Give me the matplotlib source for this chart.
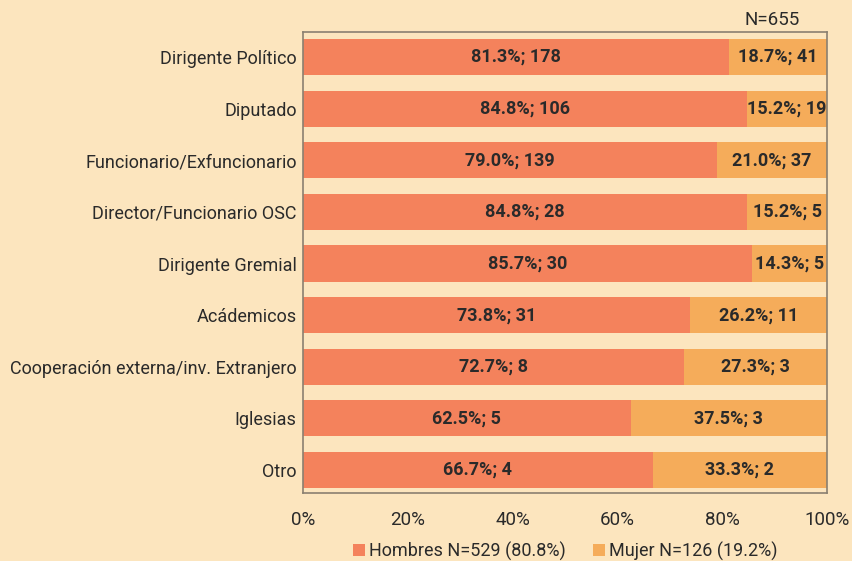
import matplotlib
matplotlib.use("Agg")
import matplotlib.pyplot as plt

plt.rcParams['font.family'] = ['Roboto', 'DejaVu Sans']

categories = ["Dirigente Político", "Diputado", "Funcionario/Exfuncionario",
              "Director/Funcionario OSC", "Dirigente Gremial", "Acádemicos",
              "Cooperación externa/inv. Extranjero", "Iglesias", "Otro"]
hombres_pct = [81.3, 84.8, 79.0, 84.8, 85.7, 73.8, 72.7, 62.5, 66.7]
hombres_n = [178, 106, 139, 28, 30, 31, 8, 5, 4]
mujer_pct = [18.7, 15.2, 21.0, 15.2, 14.3, 26.2, 27.3, 37.5, 33.3]
mujer_n = [41, 19, 37, 5, 5, 11, 3, 3, 2]
xticks = [0, 20, 40, 60, 80, 100]
legend_labels = ["Hombres N=529 (80.8%)", "Mujer N=126 (19.2%)"]

bg = "#FCE5BE"
c_h = "#F4825C"
c_m = "#F5AC5A"
txt = "#2a2a2a"

fig = plt.figure(figsize=(8.53, 5.61), dpi=100, facecolor=bg)
ax = fig.add_axes([303/853, 1-493/561, 524/853, 461/561], facecolor=bg)

y = list(range(len(categories)))
ax.barh(y, hombres_pct, height=0.70, color=c_h, label=legend_labels[0])
ax.barh(y, mujer_pct, left=hombres_pct, height=0.70, color=c_m, label=legend_labels[1])
for i in y:
    ax.text(hombres_pct[i]/2, i, f"{hombres_pct[i]:.1f}%; {hombres_n[i]}",
            ha='center', va='center', fontsize=13, fontweight='bold', color=txt)
    ax.text(hombres_pct[i] + mujer_pct[i]/2, i, f"{mujer_pct[i]:.1f}%; {mujer_n[i]}",
            ha='center', va='center', fontsize=13, fontweight='bold', color=txt,
            fontstretch='condensed')

ax.set_xlim(0, 100)
ax.set_ylim(len(categories) - 1 + 0.446, -0.485)
ax.set_yticks(y)
ax.set_yticklabels(categories, fontsize=13, color=txt)
ax.set_xticks(xticks)
ax.set_xticklabels([f"{t}%" for t in xticks], fontsize=13.5, color=txt)
ax.tick_params(axis='y', length=0, pad=4.5)
ax.tick_params(axis='x', length=0, pad=13)
for s in ax.spines.values():
    s.set_color("#8a8070")
    s.set_linewidth(1.2)

fig.text(772/853, 1-20/561, "N=655", ha='center', va='center', fontsize=13.5, color=txt)

fig.legend(loc='center', bbox_to_anchor=(565/853, 1-551/561), ncol=2, frameon=False,
           fontsize=13, handlelength=0.7, handleheight=0.7, handletextpad=0.2,
           columnspacing=1.5, labelcolor=txt)

fig.savefig("out.png", dpi=100, facecolor=bg)
